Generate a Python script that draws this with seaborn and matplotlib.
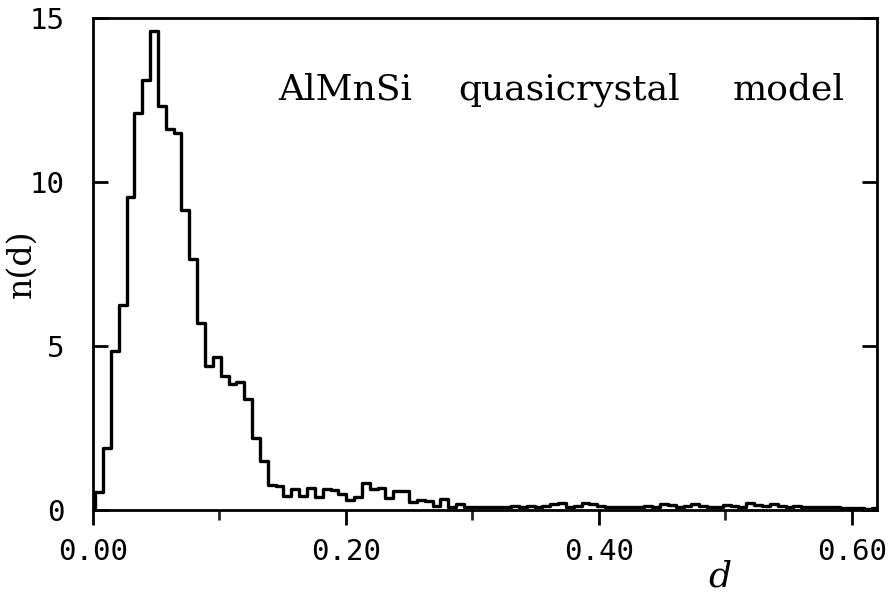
import numpy as np
import pandas as pd
import matplotlib
matplotlib.use("Agg")
import matplotlib.pyplot as plt
import seaborn as sns
from matplotlib.ticker import MultipleLocator

# histogram of n(d)
bin_width = 0.0062
first_edge = 0.002
counts = [
    0.55, 1.9, 4.85, 6.25, 9.55, 12.1, 13.1, 14.6,
    12.3, 11.6, 11.5, 9.15, 7.65, 5.7, 4.4, 4.65, 4.1, 3.85, 3.9, 3.38,
    2.2, 1.5, 0.76, 0.72, 0.43, 0.63, 0.43, 0.68, 0.4, 0.63, 0.6, 0.5,
    0.31, 0.4, 0.82, 0.63, 0.66, 0.36, 0.59, 0.59, 0.25, 0.3, 0.28, 0.12,
    0.34, 0.08, 0.18,
    0.1, 0.08, 0.1, 0.1, 0.08, 0.1, 0.12, 0.1, 0.12, 0.1, 0.12, 0.18, 0.2,
    0.1, 0.12, 0.2, 0.18, 0.12, 0.1, 0.1, 0.08, 0.1, 0.1, 0.12, 0.1, 0.18,
    0.15, 0.1, 0.12, 0.18, 0.12, 0.08, 0.1, 0.15, 0.12, 0.1, 0.2, 0.15,
    0.12, 0.18, 0.12, 0.1, 0.12, 0.1, 0.1, 0.08, 0.1, 0.08, 0.06, 0.05,
    0.05, 0.04, 0.05,
]
x_ticks = [0.0, 0.2, 0.4, 0.6]
x_ticklabels = ["0.00", "0.20", "0.40", "0.60"]
y_ticks = [0, 5, 10, 15]
label_words = ["AlMnSi", "quasicrystal", "model"]

# empty bin from 0 so the outline starts on the axis
edges = np.concatenate([[0.0], first_edge + bin_width * np.arange(len(counts) + 1)])
heights = np.concatenate([[0.0], counts])
df = pd.DataFrame({"d": (edges[:-1] + edges[1:]) / 2, "n": heights})

sns.set_style("ticks")
plt.rcParams["font.family"] = ["DejaVu Sans Mono", "DejaVu Sans"]

fig = plt.figure(figsize=(8.96, 5.97), dpi=100)
ax = fig.add_axes([0.1034, 0.1457, 0.8756, 0.8243])

sns.histplot(data=df, x="d", weights="n", bins=edges.tolist(), element="step",
             fill=False, color="black", linewidth=2.4, ax=ax)

ax.set_xlim(0, 0.62)
ax.set_ylim(0, 15)
ax.set_xticks(x_ticks)
ax.set_xticklabels(x_ticklabels)
ax.xaxis.set_minor_locator(MultipleLocator(0.1))
ax.set_yticks(y_ticks)

for s in ax.spines.values():
    s.set_linewidth(2.0)
    s.set_color("black")

ax.tick_params(axis="x", which="major", direction="out", length=11, width=2,
               pad=9, labelsize=21, colors="black")
ax.tick_params(axis="x", which="minor", direction="out", length=7, width=2)
ax.tick_params(axis="y", which="major", direction="in", length=11, width=2,
               pad=20, labelsize=21, right=True, colors="black")

ax.set_ylabel("n(d)", family="DejaVu Serif", fontsize=24, color="black")
ax.yaxis.set_label_coords(-0.07, 0.5)
ax.set_xlabel("d", family="DejaVu Serif", style="italic", fontsize=26,
              color="black")
ax.xaxis.set_label_coords(0.80, -0.10)

# the caption is spread out with wide word spacing in the original
word_kw = dict(transform=ax.transAxes, va="center", family="DejaVu Serif",
               fontsize=26, color="black")
ax.text(0.236, 0.855, label_words[0], ha="left", **word_kw)
ax.text(0.607, 0.855, label_words[1], ha="center", **word_kw)
ax.text(0.959, 0.855, label_words[2], ha="right", **word_kw)

fig.savefig("out.png", dpi=100, facecolor="white")
